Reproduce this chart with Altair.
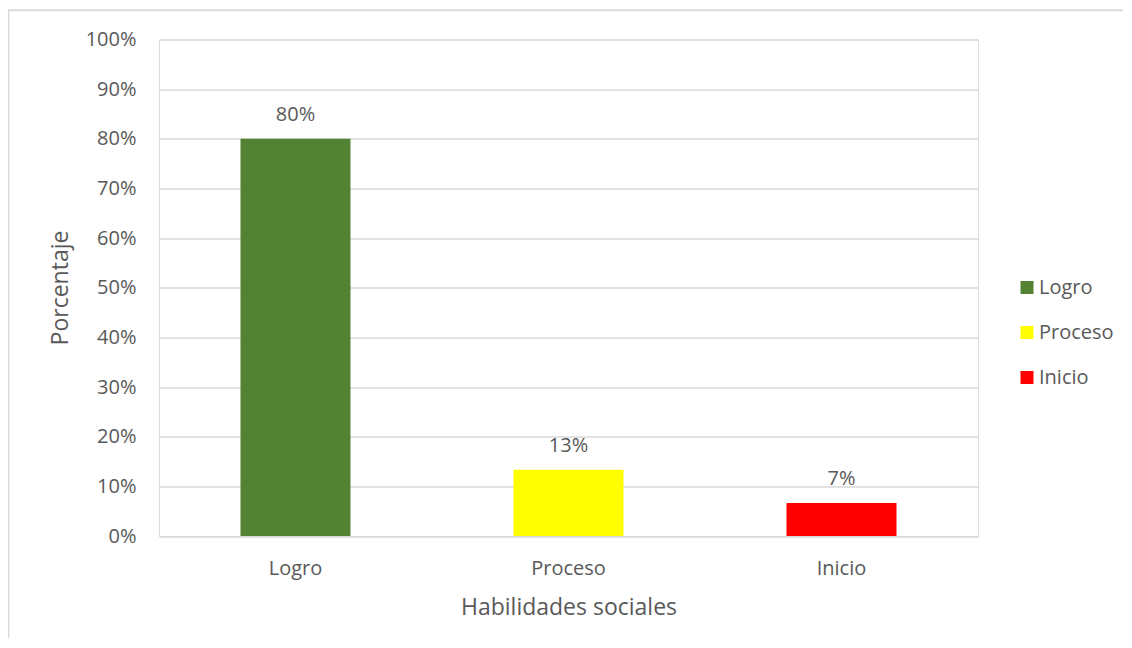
import altair as alt
import pandas as pd

categories = ["Logro", "Proceso", "Inicio"]
values = [0.80, 0.1333, 0.0667]
colors = ["#548235", "#FFFF00", "#FF0000"]
y_ticks = [0, 0.1, 0.2, 0.3, 0.4, 0.5, 0.6, 0.7, 0.8, 0.9, 1.0]
x_title = "Habilidades sociales"
y_title = "Porcentaje"

df = pd.DataFrame({"cat": categories, "val": values})

FONT = "Open Sans"
TXT = "#595959"
GRID = "#d9d9d9"

x_enc = alt.X(
    "cat:N",
    sort=categories,
    title=x_title,
    scale=alt.Scale(paddingInner=0.597, paddingOuter=0.2985),
    axis=alt.Axis(
        labelAngle=0, labelFontSize=20, labelColor=TXT, labelFont=FONT,
        labelPadding=38, labelBaseline="alphabetic",
        ticks=False, tickSize=0, domain=False, grid=False,
        titleFontSize=23, titleFont=FONT, titleColor=TXT, titleFontWeight="normal",
        titleY=78, titleBaseline="alphabetic",
    ),
)
y_enc = alt.Y(
    "val:Q",
    scale=alt.Scale(domain=[0, 1], nice=False),
    title=y_title,
    axis=alt.Axis(
        format=".0%", values=y_ticks, labelFontSize=20, labelColor=TXT, labelFont=FONT,
        labelPadding=23, ticks=False, tickSize=0, domain=False,
        gridColor=GRID, gridWidth=1.5,
        titleFontSize=23, titleFont=FONT, titleColor=TXT, titleFontWeight="normal",
        titleX=-92, titleY=248, titleBaseline="alphabetic", titleAngle=270,
    ),
)

bars = alt.Chart(df).mark_bar().encode(
    x=x_enc,
    y=y_enc,
    color=alt.Color(
        "cat:N",
        scale=alt.Scale(domain=categories, range=colors),
        legend=alt.Legend(
            title=None, orient="none", legendX=858, legendY=238,
            symbolType="square", symbolSize=169, symbolStrokeWidth=0,
            labelFontSize=20, labelFont=FONT, labelColor=TXT, labelOffset=2,
            rowPadding=25, padding=0,
        ),
    ),
)

labels = alt.Chart(df).mark_text(
    dy=-18, baseline="alphabetic", fontSize=20, font=FONT, color=TXT
).encode(
    x=x_enc,
    y=y_enc,
    text=alt.Text("val:Q", format=".0%"),
)

border = alt.Chart(pd.DataFrame({"k": [0]})).mark_rect(
    fillOpacity=0, stroke=GRID, strokeWidth=2
).encode(
    x=alt.value(-150.7), x2=alt.value(1200), y=alt.value(-29.2), y2=alt.value(900)
)

chart = alt.layer(border, bars, labels).properties(
    width=819,
    height=496.5,
    autosize=alt.AutoSizeParams(type="none"),
    padding={"left": 151, "top": 31.5, "right": 145, "bottom": 102},
).configure_view(stroke="transparent", strokeWidth=0).configure(background="white")

chart.save("out.html", embed_options={"renderer": "svg", "actions": False})
